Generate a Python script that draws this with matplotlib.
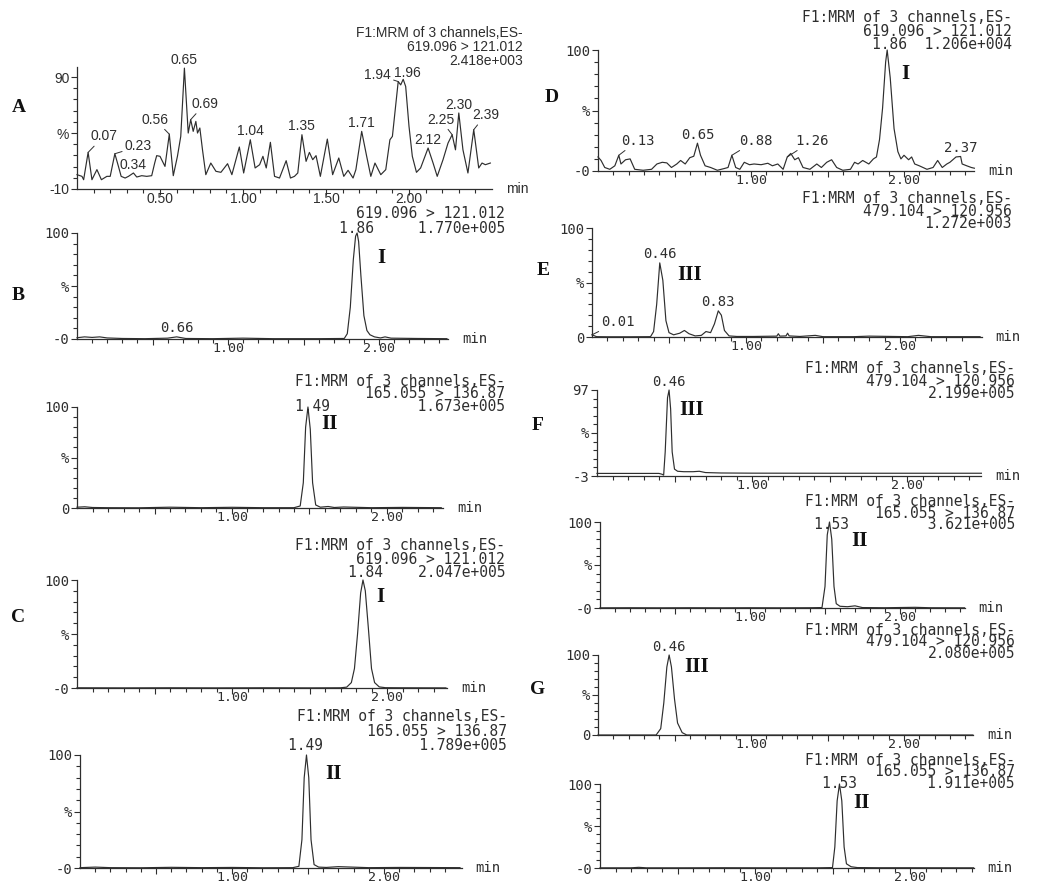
import matplotlib
matplotlib.use('Agg')
import matplotlib.pyplot as plt

W, H = 1037, 885
INK = '#2e2e2e'
WIDE = 'DejaVu Sans Mono'
NARROW = 'Liberation Sans'
SERIF = 'Liberation Serif'

# ---- traces (retention time in min, relative intensity in %) ----
tA = [0.00, 0.03, 0.04, 0.067, 0.09, 0.12, 0.147, 0.18, 0.20, 0.228,
      0.25, 0.266, 0.29, 0.31, 0.34, 0.36, 0.39, 0.42, 0.45, 0.468,
      0.48, 0.50, 0.53, 0.556, 0.58, 0.605, 0.625, 0.647, 0.67, 0.685,
      0.70, 0.716, 0.726, 0.74, 0.756, 0.776, 0.806, 0.837, 0.867, 0.907,
      0.933, 0.978, 1.004, 1.044, 1.073, 1.10, 1.12, 1.14, 1.165, 1.19,
      1.22, 1.26, 1.286, 1.31, 1.33, 1.355, 1.38, 1.40, 1.42, 1.44,
      1.466, 1.508, 1.54, 1.577, 1.607, 1.633, 1.663, 1.68, 1.715, 1.745,
      1.77, 1.795, 1.83, 1.86, 1.885, 1.90, 1.935, 1.95, 1.965, 1.98,
      2.00, 2.02, 2.045, 2.07, 2.115, 2.145, 2.17, 2.205, 2.235, 2.26,
      2.28, 2.30, 2.325, 2.355, 2.39, 2.42, 2.44, 2.46, 2.49]
vA = [2.8, 1.3, -1.7, 22.7, -1.7, 7.3, -1.7, 1.3, 1.3, 21.5,
      10, 1.3, -0.2, 1.3, 4.3, 0.7, 1.9, 1.3, 1.9, 13.2,
      19.8, 19.2, 10.2, 39, 1.9, 19.2, 37, 98, 40, 52,
      41.5, 50.4, 40, 44.5, 25, 2.8, 13.2, 5.8, 4.9, 12.6,
      2.8, 27.5, 4.3, 34, 8.8, 11.7, 19.2, 8.8, 31.7, 1.3,
      -0.2, 15.3, -0.2, 1.3, 4.3, 38.5, 14.7, 22.7, 16.2, 19.8,
      1.3, 34.6, 2.8, 17.7, 1.3, 6.7, -0.2, 7.3, 41.5, 19.2,
      1.3, 13.2, 2.8, 7.3, 34, 37, 86, 83, 88, 81.6,
      46, 19.2, 4.9, 8.8, 26.6, 13.2, 1.3, 16.2, 31, 38.5,
      25, 57.9, 25, 4.3, 43, 8.8, 13.2, 11.7, 13.2]

tB = [0.00, 0.05, 0.10, 0.15, 0.20, 0.30, 0.45, 0.60, 0.66, 0.72,
      0.90, 1.10, 1.30, 1.60, 1.77, 1.79, 1.81, 1.83, 1.845, 1.855,
      1.865, 1.88, 1.90, 1.92, 1.94, 1.97, 2.01, 2.04, 2.08, 2.25, 2.45]
vB = [1.2, 2.0, 1.5, 2.0, 1.0, 0.5, 0.3, 0.8, 2.0, 0.5,
      0.3, 0.8, 0.3, 0.3, 0.5, 5, 30, 75, 97, 100,
      92, 60, 22, 8, 4, 2, 1, 2, 0.8, 0.5, 0.3]

tB2 = [0.00, 0.05, 0.10, 0.20, 0.40, 0.60, 0.80, 1.00, 1.20, 1.40,
       1.44, 1.46, 1.475, 1.49, 1.505, 1.52, 1.54, 1.57, 1.62, 1.66,
       1.72, 1.90, 2.10, 2.35]
vB2 = [0.8, 1.2, 0.5, 0.3, 0.2, 0.8, 0.3, 0.7, 0.3, 0.3,
       2, 25, 80, 100, 78, 25, 3, 0.8, 1.5, 0.5,
       1, 0.3, 0.6, 0.3]

tC = [0.00, 0.30, 0.60, 0.90, 1.20, 1.50, 1.70, 1.74, 1.77, 1.79,
      1.81, 1.83, 1.845, 1.86, 1.88, 1.90, 1.92, 1.95, 1.99, 2.10, 2.38]
vC = [0.2, 0.1, 0.2, 0.1, 0.2, 0.1, 0.2, 0.8, 5, 18,
      50, 88, 100, 90, 55, 18, 5, 1, 0.3, 0.2, 0.1]

tC2 = [0.00, 0.10, 0.20, 0.40, 0.60, 0.80, 1.00, 1.20, 1.40, 1.44,
       1.46, 1.475, 1.49, 1.505, 1.52, 1.54, 1.57, 1.62, 1.70, 1.90, 2.10, 2.50]
vC2 = [0.3, 0.8, 0.3, 0.2, 0.6, 0.3, 0.5, 0.2, 0.3, 1.5,
       25, 80, 100, 80, 25, 3, 0.8, 0.5, 1.2, 0.3, 0.5, 0.3]

tD = [0.00, 0.02, 0.044, 0.077, 0.11, 0.136, 0.15, 0.18, 0.21, 0.24,
      0.295, 0.35, 0.385, 0.42, 0.45, 0.48, 0.515, 0.54, 0.57, 0.60,
      0.626, 0.65, 0.67, 0.70, 0.736, 0.78, 0.824, 0.85, 0.875, 0.90,
      0.927, 0.956, 0.99, 1.02, 1.066, 1.11, 1.14, 1.175, 1.21, 1.237,
      1.26, 1.286, 1.31, 1.34, 1.385, 1.43, 1.46, 1.495, 1.527, 1.56,
      1.60, 1.65, 1.677, 1.70, 1.73, 1.77, 1.80, 1.82, 1.84, 1.86,
      1.88, 1.89, 1.91, 1.935, 1.96, 1.98, 2.00, 2.03, 2.05, 2.07,
      2.10, 2.15, 2.19, 2.22, 2.25, 2.28, 2.30, 2.34, 2.37, 2.38,
      2.41, 2.44, 2.46]
vD = [11.6, 8.7, 2.9, 1.4, 4.3, 13, 5.8, 9.3, 10, 1.4,
      0.6, 1.4, 5.8, 7.2, 6.7, 2.9, 5.8, 8.7, 5.8, 11,
      12.2, 23, 13, 4.3, 2.9, 0.6, 2, 2.9, 13, 2.9,
      1.4, 7.2, 5.2, 5.8, 5.2, 6.4, 4.3, 5.8, 1.4, 11.6,
      14.5, 9.3, 11, 2.9, 1.4, 5.8, 2.9, 7.2, 9.3, 2.9,
      0.6, 1.4, 7.2, 5.8, 8.7, 5.8, 10, 11.6, 26, 52,
      90, 100, 77, 35, 16, 10, 13, 9.3, 11.6, 5.8,
      4.3, 1.4, 2.9, 8.7, 2.9, 5.8, 7.2, 11.6, 12, 5.8,
      4.3, 2.9, 2.3]

tE = [0.00, 0.03, 0.10, 0.25, 0.38, 0.40, 0.42, 0.44, 0.46, 0.48,
      0.50, 0.53, 0.57, 0.60, 0.63, 0.67, 0.71, 0.74, 0.77, 0.795,
      0.82, 0.84, 0.86, 0.89, 0.94, 1.05, 1.20, 1.21, 1.22, 1.26,
      1.27, 1.28, 1.35, 1.45, 1.50, 1.70, 1.80, 2.05, 2.12, 2.20, 2.52]
vE = [2, 0.3, 0.2, 0.2, 0.3, 5, 30, 68, 52, 15,
      4, 2, 3.5, 6, 3, 1, 1.5, 5, 4, 12,
      24, 20, 6, 1, 0.5, 0.5, 0.8, 3, 0.8, 1,
      3.5, 1, 0.5, 1.5, 0.3, 0.3, 0.8, 0.3, 1.5, 0.3, 0.3]

tF = [0.00, 0.20, 0.40, 0.42, 0.43, 0.44, 0.455, 0.465, 0.475, 0.485,
      0.50, 0.52, 0.56, 0.62, 0.66, 0.70, 0.80, 1.00, 1.50, 2.00, 2.48]
vF = [0, 0, 0, -1, -2, 25, 88, 97, 75, 25,
      5, 2.5, 2, 2, 2.5, 1, 0.5, 0.3, 0.2, 0.2, 0.2]

tF2 = [0.00, 0.20, 0.40, 0.60, 0.80, 1.00, 1.20, 1.40, 1.48, 1.50,
       1.515, 1.53, 1.545, 1.56, 1.575, 1.60, 1.65, 1.70, 1.75, 1.90,
       2.10, 2.20, 2.43]
vF2 = [0.2, 0.3, 0.2, 0.3, 0.2, 0.3, 0.2, 0.3, 0.5, 25,
       85, 100, 80, 25, 5, 2, 1.5, 2.5, 0.5, 0.3,
       0.8, 0.3, 0.2]

tG = [0.00, 0.20, 0.38, 0.41, 0.43, 0.45, 0.465, 0.48, 0.50, 0.52,
      0.55, 0.58, 1.00, 1.50, 2.00, 2.45]
vG = [0, 0, 0, 8, 40, 85, 100, 85, 45, 15,
      3, 0, 0, 0, 0, 0]

tG2 = [0.00, 0.20, 0.25, 0.30, 0.50, 0.80, 1.10, 1.40, 1.50, 1.515,
       1.53, 1.545, 1.56, 1.575, 1.59, 1.62, 1.66, 1.80, 2.00, 2.41]
vG2 = [0.2, 0.2, 0.8, 0.2, 0.2, 0.3, 0.2, 0.2, 0.5, 25,
       80, 100, 80, 25, 5, 1.5, 0.5, 0.3, 0.3, 0.2]

# channel header text
CH = 'F1:MRM of 3 channels,ES-'
M619 = '619.096 > 121.012'
M165 = '165.055 > 136.87'
M479 = '479.104 > 120.956'

fig = plt.figure(figsize=(W / 100, H / 100), dpi=100)
fig.patch.set_facecolor('white')


def fx(x):
    return x / W


def fy(y):
    return 1 - y / H


def chrom(t, v, x0, ppm, xmax, ytop, ybot, ylim, yt, ytl, xtl, font, size):
    ax = fig.add_axes([fx(x0), fy(ybot), xmax * ppm / W, (ybot - ytop) / H])
    ax.plot(t, v, color=INK, lw=0.85, clip_on=False)
    ax.set_xlim(0, xmax)
    ax.set_ylim(*ylim)
    for s in ['top', 'right']:
        ax.spines[s].set_visible(False)
    for s in ['left', 'bottom']:
        ax.spines[s].set_color(INK)
        ax.spines[s].set_linewidth(0.9)
    ax.set_yticks(yt)
    ax.set_yticklabels(ytl, fontfamily=font, fontsize=size, color=INK)
    ax.set_yticks([ylim[0] + 10 * i for i in range(11) if ylim[0] + 10 * i <= ylim[1]], minor=True)
    ax.set_xticks([0.5, 1.0, 1.5, 2.0])
    ax.set_xticklabels(xtl, fontfamily=font, fontsize=size - (0.5 if font == WIDE else 0), color=INK)
    ax.set_xticks([i / 10 for i in range(1, 26) if i % 5 and i / 10 <= xmax], minor=True)
    ax.tick_params(which='major', length=4.5, width=0.8, color=INK)
    ax.tick_params(axis='y', which='major', pad=1)
    ax.tick_params(axis='x', which='major', pad=-2)
    ax.tick_params(which='minor', length=2.8, width=0.8, color=INK)
    ax.patch.set_alpha(0)
    fig.text(fx(x0 + xmax * ppm + 14), fy(ybot), 'min', ha='left', va='center',
             family=font, size=size, color=INK)
    return ax


HS = 10.5


def header(lines, right, ys, font=WIDE, size=HS, pk=None):
    # pk = (label, pixel x of the peak): written into the last line, monospace columns
    lines = list(lines)
    if pk is not None:
        w = 0.602 * size * 100 / 72
        n = int(round((right - pk[1]) / w + len(pk[0]) / 2))
        lines[-1] = pk[0] + ' ' * max(1, n - len(pk[0]) - len(lines[-1])) + lines[-1]
    unit = (1.033 if font == WIDE else 0.94) * size * 100 / 72
    step = (ys[-1] - ys[0]) / max(1, len(ys) - 1)
    fig.text(fx(right), fy(sum(ys) / len(ys) + 1), '\n'.join(lines), ha='right', va='center',
             multialignment='right', linespacing=step / unit, family=font, size=size, color=INK)


def peak(ax, s, t, v, font, size, lt=None, lv=None):
    if lt is None:
        ax.annotate(s, (t, v), xytext=(0, 1), textcoords='offset points', ha='center',
                    va='bottom', family=font, size=size, color=INK, annotation_clip=False)
    else:
        ax.annotate(s, (t, v), xytext=(lt, lv), textcoords='data', ha='center', va='center',
                    family=font, size=size, color=INK, annotation_clip=False,
                    arrowprops=dict(arrowstyle='-', color=INK, lw=0.7, shrinkA=0, shrinkB=0))


def tag(s, x, y, size=14):
    fig.text(fx(x), fy(y), s, ha='center', va='center', family=SERIF,
             weight='bold', size=size, color='#111111')


FS = 10
X2 = ['', '1.00', '', '2.00']
# ---- A ----
ax = chrom(tA, vA, 77, 166, 2.5, 67, 189, (-10, 99), [-10, 40, 90], ['-10', '%', '90'],
           ['0.50', '1.00', '1.50', '2.00'], NARROW, 10)
header([CH, M619, '2.418e+003'], 523, [33, 46, 59], NARROW, 10)
for s, t, v, lt, lv in [('0.07', 0.067, 22.7, 0.16, 37), ('0.23', 0.228, 21.5, 0.37, 28),
                        ('0.56', 0.556, 39, 0.47, 52), ('0.69', 0.685, 52, 0.77, 66),
                        ('1.94', 1.935, 86, 1.81, 92), ('2.25', 2.26, 38.5, 2.19, 52),
                        ('2.39', 2.39, 43, 2.46, 56)]:
    peak(ax, s, t, v, NARROW, 10, lt, lv)
for s, t, v in [('0.34', 0.34, 4.3), ('0.65', 0.647, 98), ('1.04', 1.044, 34), ('1.35', 1.355, 38.5),
                ('1.71', 1.715, 41.5), ('1.96', 1.99, 86), ('2.12', 2.115, 26.6), ('2.30', 2.30, 57.9)]:
    peak(ax, s, t, v, NARROW, 10)
tag('A', 19, 108)

# ---- B ----
ax = chrom(tB, vB, 77, 151, 2.46, 233, 339, (0, 100), [0, 50, 100], ['-0', '%', '100'], X2, WIDE, FS)
header([M619, '1.770e+005'], 505, [213, 227], pk=('1.86', 77 + 1.855 * 151))
peak(ax, '0.66', 0.66, 2, WIDE, FS)
tag('B', 18, 296)
tag('I', 381, 258, 15)

# ---- second left (II) ----
ax = chrom(tB2, vB2, 77, 155, 2.36, 407, 508, (0, 100), [0, 50, 100], ['0', '%', '100'], X2, WIDE, FS)
header([CH, M165, '1.673e+005'], 505, [381, 393, 405], pk=('1.49', 77 + 1.49 * 155))
tag('II', 330, 424, 15)

# ---- C ----
ax = chrom(tC, vC, 77, 155, 2.39, 580, 688, (0, 100), [0, 50, 100], ['-0', '%', '100'], X2, WIDE, FS)
header([CH, M619, '2.047e+005'], 505, [545, 558, 571], pk=('1.84', 77 + 1.845 * 155))
tag('C', 18, 618)
tag('I', 380, 597, 15)

# ---- bottom left (II) ----
ax = chrom(tC2, vC2, 80, 152, 2.51, 755, 868, (0, 100), [0, 50, 100], ['-0', '%', '100'], X2, WIDE, FS)
header([CH, M165, '1.789e+005'], 507, [716, 730, 744], pk=('1.49', 80 + 1.49 * 152))
tag('II', 333, 774, 15)

# ---- D ----
ax = chrom(tD, vD, 598, 153, 2.46, 50, 171, (0, 100), [0, 50, 100], ['-0', '%', '100'], X2, WIDE, FS)
header([CH, M619, '1.206e+004'], 1012, [17, 30, 43], pk=('1.86', 598 + 1.89 * 153))
peak(ax, '0.65', 0.65, 23, WIDE, FS)
peak(ax, '2.37', 2.37, 12, WIDE, FS)
for s, t, v, lt, lv in [('0.13', 0.136, 13, 0.26, 25), ('0.88', 0.875, 13, 1.03, 25),
                        ('1.26', 1.237, 11.6, 1.40, 25)]:
    peak(ax, s, t, v, WIDE, FS, lt, lv)
tag('D', 552, 97)
tag('I', 905, 74, 15)

# ---- E ----
ax = chrom(tE, vE, 592, 154, 2.53, 228, 337, (0, 100), [0, 50, 100], ['0', '%', '100'], X2, WIDE, FS)
header([CH, M479, '1.272e+003'], 1012, [198, 210, 222])
peak(ax, '0.46', 0.44, 68, WIDE, FS)
peak(ax, '0.83', 0.82, 24, WIDE, FS)
peak(ax, '0.01', 0.0, 2, WIDE, FS, 0.17, 14)
tag('E', 543, 270)
tag('III', 690, 275, 15)

# ---- F ----
ax = chrom(tF, vF, 597, 155, 2.48, 390, 476, (-3, 97), [-3, 47, 97], ['-3', '%', '97'], X2, WIDE, FS)
header([CH, M479, '2.199e+005'], 1015, [368, 380, 392])
peak(ax, '0.46', 0.465, 97, WIDE, FS)
tag('F', 538, 425)
tag('III', 692, 410, 15)

# ---- F (II) ----
ax = chrom(tF2, vF2, 600, 150, 2.43, 522, 608, (0, 100), [0, 50, 100], ['-0', '%', '100'], X2, WIDE, FS)
header([CH, M165, '3.621e+005'], 1015, [501, 512, 523], pk=('1.53', 600 + 1.53 * 150))
tag('II', 860, 541, 15)

# ---- G ----
ax = chrom(tG, vG, 598, 153, 2.45, 655, 735, (0, 100), [0, 50, 100], ['0', '%', '100'], X2, WIDE, FS)
header([CH, M479, '2.080e+005'], 1015, [630, 641, 652])
peak(ax, '0.46', 0.465, 100, WIDE, FS)
tag('G', 538, 690)
tag('III', 697, 667, 15)

# ---- G (II) ----
ax = chrom(tG2, vG2, 600, 155, 2.41, 784, 868, (0, 100), [0, 50, 100], ['-0', '%', '100'], X2, WIDE, FS)
header([CH, M165, '1.911e+005'], 1015, [760, 771, 782], pk=('1.53', 600 + 1.545 * 155))
tag('II', 862, 803, 15)

fig.savefig('out.png', dpi=100, facecolor='white')
